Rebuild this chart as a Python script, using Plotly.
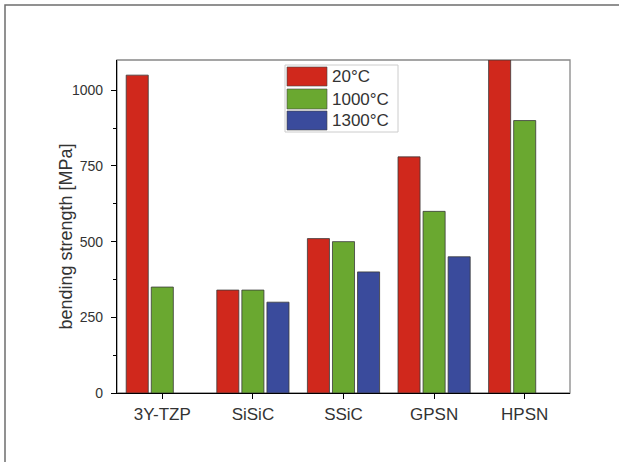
import plotly.graph_objects as go

categories = ["3Y-TZP", "SiSiC", "SSiC", "GPSN", "HPSN"]
series_names = ["20°C", "1000°C", "1300°C"]
s20 = [1050, 340, 510, 780, 1100]
s1000 = [350, 340, 500, 600, 900]
s1300 = [None, 300, 400, 450, None]
colors = ["#d0281c", "#6aa830", "#3a4b9c"]
y_ticks = [0, 250, 500, 750, 1000]
y_title = "bending strength [MPa]"

W, H = 619, 462
L, R, T, B = 117, 570, 60, 393  # plot area in pixels


def px(x):
    return (x - L) / (R - L)


def py(y):
    return (B - y) / (B - T)


FONT = "Liberation Sans, Arial, sans-serif"

fig = go.Figure()
for name, vals, col in zip(series_names, [s20, s1000, s1300], colors):
    fig.add_trace(go.Bar(
        x=categories, y=vals, name=name,
        marker=dict(color=col, line=dict(color="#3a3a3a", width=0.8)),
        showlegend=False,
    ))

fig.update_layout(
    width=W, height=H,
    margin=dict(l=L, r=W - R, t=T, b=H - B),
    paper_bgcolor="white", plot_bgcolor="white",
    barmode="group", bargap=0.17, bargroupgap=0.12,
    font=dict(family=FONT, color="#333333"),
    xaxis=dict(
        range=[-0.5, 4.5], showline=True, linecolor="black", linewidth=1.3,
        ticks="outside", ticklen=5, tickcolor="black", tickwidth=1.2,
        tickfont=dict(size=17, color="#333333"), showgrid=False, zeroline=False,
    ),
    yaxis=dict(
        range=[0, 1100], tickvals=y_ticks, showline=True, linecolor="black", linewidth=1.3,
        ticks="outside", ticklen=5, tickcolor="black", tickwidth=1.2,
        minor=dict(dtick=125, tick0=0, ticks="outside", ticklen=3, tickcolor="black"),
        tickfont=dict(size=14, color="#333333"), ticklabelstandoff=5,
        showgrid=False, zeroline=False,
    ),
)

# y-axis title placed as rotated annotation
fig.add_annotation(xref="paper", yref="paper", x=px(65.5), y=py(237),
                   text=y_title, textangle=-90, showarrow=False,
                   xanchor="center", yanchor="middle",
                   font=dict(size=18, color="#333333", family=FONT))

# plot frame (top/right) and outer border
fig.add_shape(type="rect", xref="paper", yref="paper", x0=0, x1=1, y0=0, y1=1,
              line=dict(color="#888888", width=1.3), layer="below")
fig.add_shape(type="rect", xref="paper", yref="paper",
              x0=px(5), x1=px(640), y0=py(480), y1=py(5),
              line=dict(color="#6e6e6e", width=1.5))

# custom legend (large swatches)
fig.add_shape(type="rect", xref="paper", yref="paper",
              x0=px(285), x1=px(398), y0=py(132), y1=py(65),
              line=dict(color="#cccccc", width=1), fillcolor="white")
rows = [(67, 86), (89, 109), (111, 130)]
for (y0, y1), name, col in zip(rows, series_names, colors):
    fig.add_shape(type="rect", xref="paper", yref="paper",
                  x0=px(287), x1=px(327), y0=py(y1), y1=py(y0),
                  line=dict(color="#444444", width=0.6), fillcolor=col)
    fig.add_annotation(xref="paper", yref="paper", x=px(330), y=py((y0 + y1) / 2),
                       text=name, showarrow=False, xanchor="left", yanchor="middle",
                       font=dict(size=17, color="#333333", family=FONT))

fig.write_html("out.html", config={"displayModeBar": False},
               post_script="document.body.style.margin='0px';")
